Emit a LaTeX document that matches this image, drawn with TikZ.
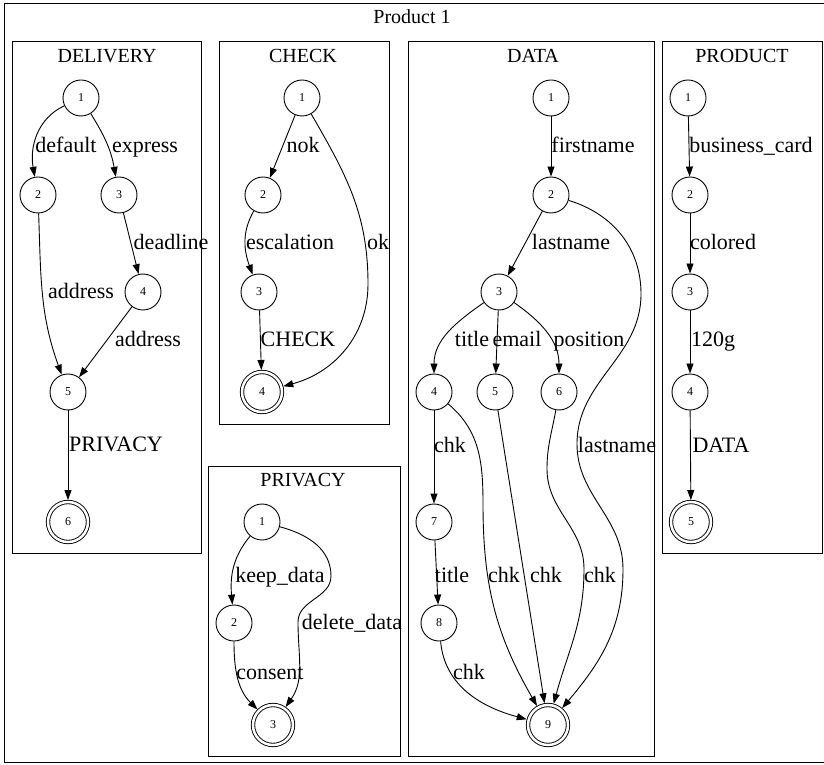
\documentclass[tikz,border=0pt]{standalone}
\usepackage{fontspec}
\setmainfont{Liberation Serif}
\usetikzlibrary{arrows.meta}
\begin{document}
\begin{tikzpicture}[
    x=1pt, y=1pt,
    state/.style={circle, draw, line width=0.9pt, minimum size=36pt, inner sep=0pt, font=\fontsize{12}{13}\selectfont},
    final/.style={state, minimum size=40pt, double, double distance=2.5pt, outer sep=2pt},
    cluster/.style={draw, line width=0.9pt},
    ctitle/.style={font=\fontsize{20}{22}\selectfont, text height=13.6pt, text depth=0pt, inner sep=0pt},
    elabel/.style={font=\fontsize{22}{24}\selectfont, text height=15pt, text depth=0pt, inner sep=0pt},
    edge/.style={-{Triangle[length=10pt,width=7pt]}, line width=0.9pt},
]
\useasboundingbox (0,0) rectangle (824,764);

\draw[cluster] (4,761) rectangle (830,1.3);
\draw[cluster] (12,723) rectangle (201,211);
\draw[cluster] (219,723) rectangle (389,340);
\draw[cluster] (208,298) rectangle (400,8);
\draw[cluster] (408,723) rectangle (654,8);
\draw[cluster] (662,723) rectangle (822,211);

\node[ctitle] (product) at (412,747) {Product 1};
\node[ctitle] (tdelivery) at (107,708) {DELIVERY};
\node[ctitle] (tcheck) at (303,708) {CHECK};
\node[ctitle] (tprivacy) at (303,284) {PRIVACY};
\node[ctitle] (tdata) at (533,708) {DATA};
\node[ctitle] (tproduct) at (742,708) {PRODUCT};

% DELIVERY
\node[state] (d1) at (81,666) {1};
\node[state] (d2) at (38,569) {2};
\node[state] (d3) at (119,569) {3};
\node[state] (d4) at (143,472) {4};
\node[state] (d5) at (68,372) {5};
\node[final] (d6) at (68,242) {6};

\draw[edge] (d1) to[out=205,in=100] (d2) node[elabel] at (66,619) {default};
\draw[edge] (d1) to[out=-58,in=100] (d3) node[elabel] at (145,619) {express};
\draw[edge] (d3) -- (d4) node[elabel] at (171,522) {deadline};
\draw[edge] (d2) to[out=-88,in=110] (d5) node[elabel] at (81,473) {address};
\draw[edge] (d4) -- (d5) node[elabel] at (148,425) {address};
\draw[edge] (d5) -- (d6) node[elabel] at (116,320) {PRIVACY};

% CHECK
\node[state] (c1) at (302,666) {1};
\node[state] (c2) at (263,569) {2};
\node[state] (c3) at (259,472) {3};
\node[final] (c4) at (262,372) {4};

\draw[edge] (c1) -- (c2) node[elabel] at (303,619) {nok};
\draw[edge] (c2) to[out=240,in=110] (c3) node[elabel] at (290,522) {escalation};
\draw[edge] (c3) -- (c4) node[elabel] at (298,425) {CHECK};
\draw[edge] (c1) to[out=-60,in=90] (368,480) to[out=-90,in=15] (c4) node[elabel] at (378,522) {ok};

% PRIVACY
\node[state] (p1) at (262,242) {1};
\node[state] (p2) at (234,141) {2};
\node[final] (p3) at (273,39) {3};

\draw[edge] (p1) to[out=230,in=95] (p2) node[elabel] at (280,189) {keep\_data};
\draw[edge] (p2) to[out=-90,in=135] (p3) node[elabel] at (270,92) {consent};
\draw[edge] (p1) to[out=-15,in=90] (331,188) to[out=-90,in=90] (298,142) to[out=-90,in=55] (p3) node[elabel] at (352,142) {delete\_data};

% DATA
\node[state] (a1) at (551,666) {1};
\node[state] (a2) at (551,569) {2};
\node[state] (a3) at (499,472) {3};
\node[state] (a4) at (434,372) {4};
\node[state] (a5) at (495,372) {5};
\node[state] (a6) at (559,372) {6};
\node[state] (a7) at (434,242) {7};
\node[state] (a8) at (439,141) {8};
\node[final] (a9) at (548,39) {9};

\draw[edge] (a1) -- (a2) node[elabel] at (593,619) {firstname};
\draw[edge] (a2) -- (a3) node[elabel] at (571,522) {lastname};
\draw[edge] (a3) to[out=215,in=90] (a4) node[elabel] at (472,425) {title};
\draw[edge] (a3) -- (a5) node[elabel] at (517,425) {email};
\draw[edge] (a3) to[out=-35,in=90] (a6) node[elabel] at (589,425) {position};
\draw[edge] (a2) to[out=-17,in=90] (641,470) to[out=-90,in=90] (577,320) to[out=-90,in=90] (623,195) to[out=-90,in=50] (a9) node[elabel] at (617,319) {lastname};
\draw[edge] (a4) -- (a7) node[elabel] at (450,319) {chk};
\draw[edge] (a4) to[out=-40,in=90] (483,260) to[out=-90,in=120] (a9) node[elabel] at (504,189) {chk};
\draw[edge] (a5) -- (a9) node[elabel] at (546,189) {chk};
\draw[edge] (a6) to[out=-100,in=90] (547,295) to[out=-90,in=90] (584,195) to[out=-90,in=75] (a9) node[elabel] at (600,189) {chk};
\draw[edge] (a7) -- (a8) node[elabel] at (452,189) {title};
\draw[edge] (a8) to[out=-85,in=165] (a9) node[elabel] at (469,92) {chk};

% PRODUCT
\node[state] (r1) at (688,666) {1};
\node[state] (r2) at (690,569) {2};
\node[state] (r3) at (690,472) {3};
\node[state] (r4) at (690,372) {4};
\node[final] (r5) at (691,242) {5};

\draw[edge] (r1) -- (r2) node[elabel] at (751,619) {business\_card};
\draw[edge] (r2) -- (r3) node[elabel] at (723,522) {colored};
\draw[edge] (r3) -- (r4) node[elabel] at (713,425) {120g};
\draw[edge] (r4) -- (r5) node[elabel] at (721,319) {DATA};
\end{tikzpicture}
\end{document}
